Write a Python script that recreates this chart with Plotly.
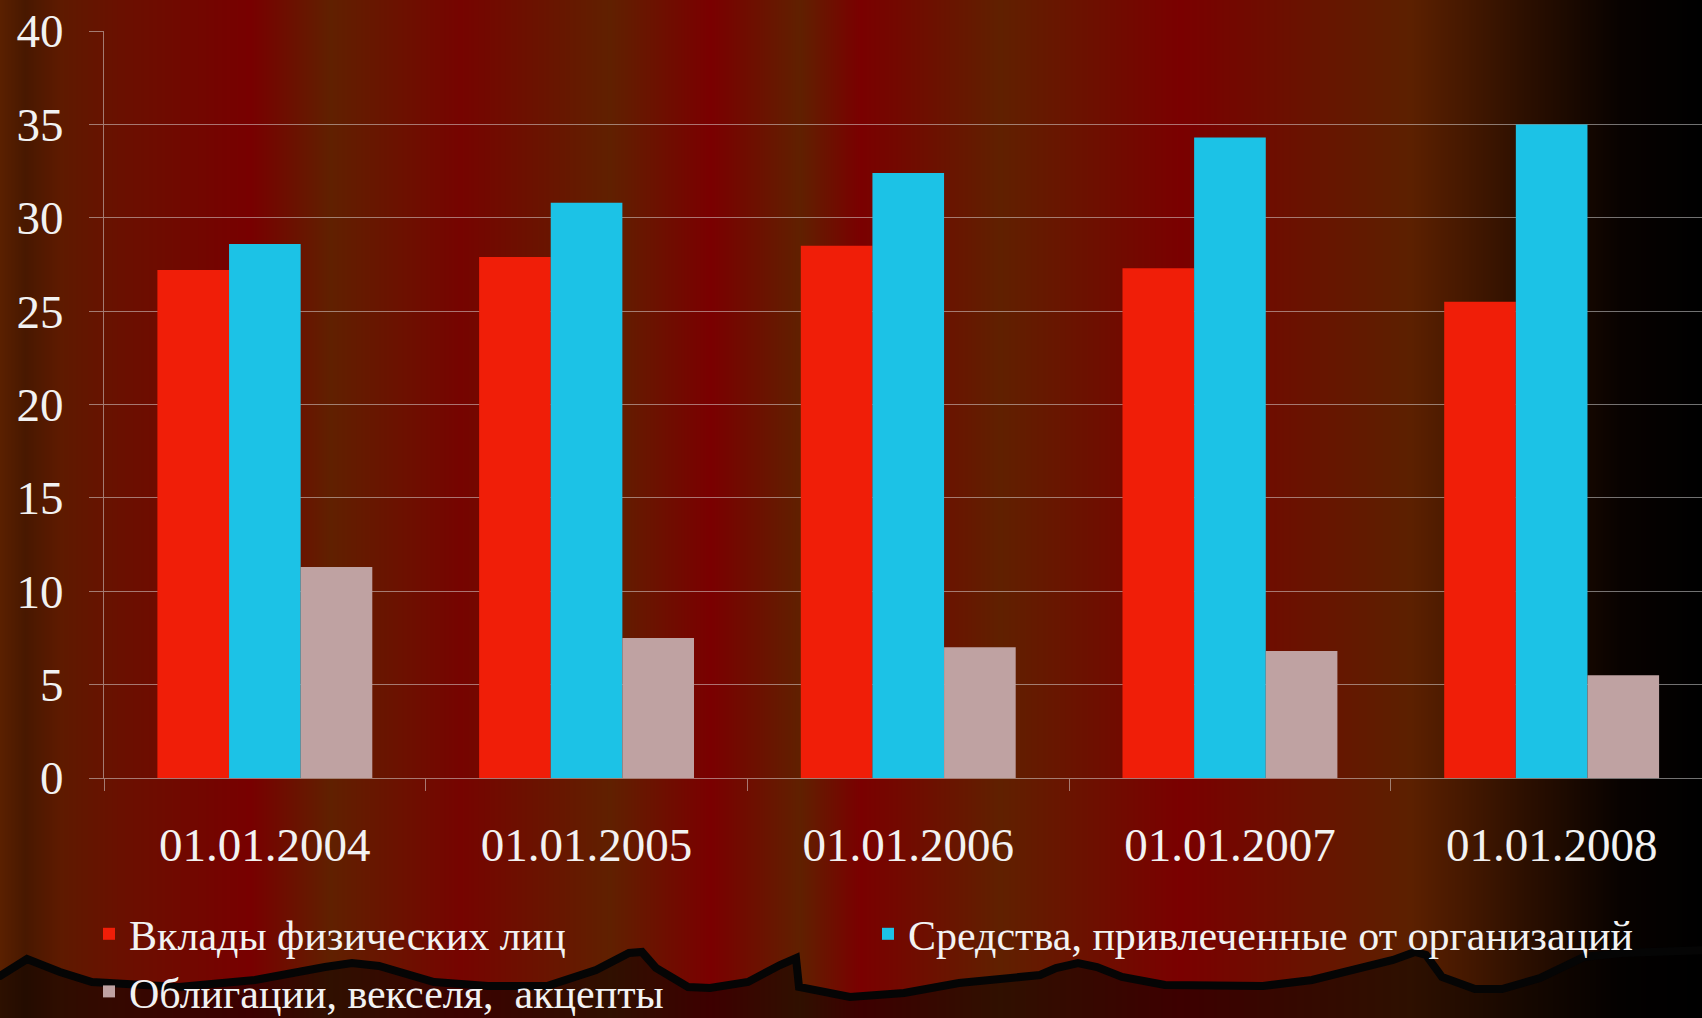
import base64, struct, zlib
import plotly.graph_objects as go

# ---- data ----
dates = ["01.01.2004", "01.01.2005", "01.01.2006", "01.01.2007", "01.01.2008"]
deposits = [27.2, 27.9, 28.5, 27.3, 25.5]        # Вклады физических лиц
org_funds = [28.6, 30.8, 32.4, 34.3, 35.0]       # Средства, привлеченные от организаций
bonds = [11.3, 7.5, 7.0, 6.8, 5.5]               # Облигации, векселя, акцепты
series_names = ["Вклады физических лиц", "Средства, привлеченные от организаций",
                "Облигации, векселя,  акцепты"]

W, H = 1702, 1018
L, T, B = 104, 31, 240
PW, PH = W - L, H - T - B
CAT_W = 321.7

# ---- background gradient (vertical stripes) as an inline PNG ----
stops = [(0, (0x5a, 0x20, 0x00)), (25, (0x48, 0x18, 0x00)), (60, (0x5e, 0x1a, 0x00)),
         (120, (0x6a, 0x10, 0x00)), (250, (0x78, 0x00, 0x00)), (330, (0x60, 0x20, 0x00)),
         (460, (0x76, 0x04, 0x00)), (610, (0x60, 0x20, 0x00)), (710, (0x7a, 0x00, 0x00)),
         (800, (0x60, 0x20, 0x00)), (860, (0x7a, 0x00, 0x00)), (1000, (0x60, 0x20, 0x00)),
         (1180, (0x7a, 0x00, 0x00)), (1300, (0x6a, 0x12, 0x00)), (1410, (0x5c, 0x20, 0x00)),
         (1520, (0x2e, 0x10, 0x00)), (1620, (0x08, 0x02, 0x00)), (1702, (0x00, 0x00, 0x00))]


def col_at(px):
    for (x0, c0), (x1, c1) in zip(stops[:-1], stops[1:]):
        if x0 <= px <= x1:
            t = (px - x0) / (x1 - x0)
            return tuple(int(round(a + (b - a) * t)) for a, b in zip(c0, c1))
    return stops[-1][1]


row = bytearray()
for px in range(W):
    row += bytes(col_at(px))
raw = b"\x00" + bytes(row)


def chunk(t, d):
    c = struct.pack(">I", len(d)) + t + d
    return c + struct.pack(">I", zlib.crc32(t + d) & 0xffffffff)


png = (b"\x89PNG\r\n\x1a\n" + chunk(b"IHDR", struct.pack(">IIBBBBB", W, 1, 8, 2, 0, 0, 0))
       + chunk(b"IDAT", zlib.compress(raw)) + chunk(b"IEND", b""))
src = "data:image/png;base64," + base64.b64encode(png).decode()


def px_to_paper(x, y):
    return (x - L) / PW, (H - B - y) / PH


# decorative wavy silhouette at the bottom (pixel coordinates of the page)
wave = [(-10, 978), (0, 976), (27, 959), (60, 972), (92, 982), (179, 987), (255, 980),
        (325, 967), (352, 963), (379, 966), (434, 982), (488, 986), (547, 986), (596, 970),
        (629, 953), (642, 952), (656, 968), (688, 987), (710, 988), (748, 982), (780, 965),
        (796, 958), (799, 987), (850, 997), (904, 993), (959, 983), (1040, 975), (1056, 968),
        (1078, 963), (1097, 967), (1122, 977), (1165, 985), (1263, 986), (1312, 980),
        (1393, 960), (1415, 952), (1426, 955), (1442, 977), (1475, 989), (1502, 989),
        (1540, 978), (1584, 957), (1622, 953), (1712, 950), (1712, 1040), (-10, 1040)]
pts = [px_to_paper(x, y) for x, y in wave]
path = "M " + " L ".join(f"{x:.5f},{y:.5f}" for x, y in pts) + " Z"

FONT = "Liberation Serif"
fig = go.Figure()
fig.add_trace(go.Bar(x=dates, y=deposits, name=series_names[0],
                     marker=dict(color="#f01e08", line=dict(width=0))))
fig.add_trace(go.Bar(x=dates, y=org_funds, name=series_names[1],
                     marker=dict(color="#1cc2e6", line=dict(width=0))))
fig.add_trace(go.Bar(x=dates, y=bonds, name=series_names[2],
                     marker=dict(color="#bfa2a2", line=dict(width=0))))

axis_col = "rgba(225,225,225,0.5)"
fig.update_layout(
    width=W, height=H,
    margin=dict(l=L, r=0, t=T, b=B),
    paper_bgcolor="#000000", plot_bgcolor="rgba(0,0,0,0)",
    barmode="group", bargap=0.332, bargroupgap=0,
    font=dict(family=FONT, color="#f2f2f2"),
    images=[dict(source=src, xref="paper", yref="paper", x=-L / PW, y=1 + T / PH,
                 sizex=W / PW, sizey=H / PH, xanchor="left", yanchor="top",
                 sizing="stretch", layer="below")],
    shapes=[dict(type="path", path=path, xref="paper", yref="paper", layer="below",
                 fillcolor="rgba(0,0,0,0.5)", line=dict(color="#050505", width=8))],
    legend=dict(orientation="h", xref="container", yref="container",
                x=89 / W, y=1 - 900 / H, xanchor="left", yanchor="top",
                font=dict(family=FONT, size=42, color="#f2f2f2"),
                entrywidth=734, entrywidthmode="pixels",
                bgcolor="rgba(0,0,0,0)", itemsizing="constant"),
    xaxis=dict(type="category", range=[-0.5, -0.5 + PW / CAT_W],
               tickson="boundaries", ticks="outside", ticklen=12, tickcolor=axis_col,
               showline=True, linecolor=axis_col, linewidth=1, showgrid=False,
               tickfont=dict(family=FONT, size=47, color="#f2f2f2"),
               ticklabelstandoff=26),
    yaxis=dict(range=[0, 40], dtick=5, ticks="outside", ticklen=14, tickcolor=axis_col,
               showline=True, linecolor=axis_col, linewidth=1,
               gridcolor=axis_col, gridwidth=1, zeroline=False,
               tickfont=dict(family=FONT, size=47, color="#f2f2f2"),
               ticklabelstandoff=16),
)
fig.write_html("out.html")
